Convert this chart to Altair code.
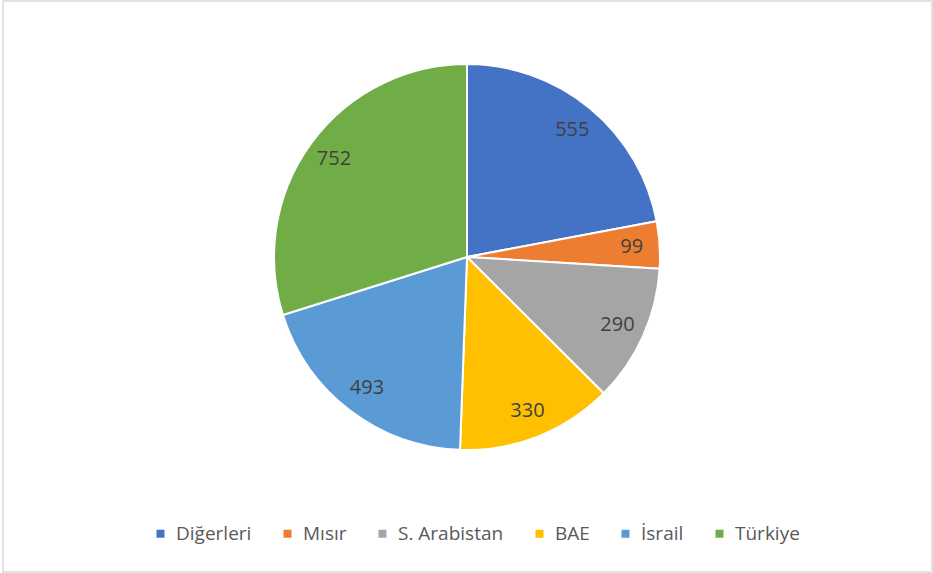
import altair as alt
import pandas as pd

categories = ["Diğerleri", "Mısır", "S. Arabistan", "BAE", "İsrail", "Türkiye"]
values = [555, 99, 290, 330, 493, 752]
colors = ["#4472C4", "#ED7D31", "#A5A5A5", "#FFC000", "#5B9BD5", "#70AD47"]

df = pd.DataFrame({"cat": categories, "val": values, "idx": list(range(len(values)))})

FONT = "Open Sans"
CX, CY = 464, 256

base = alt.Chart(df).encode(
    theta=alt.Theta("val:Q", stack=True),
    order=alt.Order("idx:Q", sort="ascending"),
    x=alt.value(CX),
    y=alt.value(CY),
)

arcs = base.mark_arc(outerRadius=193, stroke="white", strokeWidth=2).encode(
    color=alt.Color(
        "cat:N",
        scale=alt.Scale(domain=categories, range=colors),
        sort=categories,
        legend=alt.Legend(
            title=None,
            orient="none",
            legendX=148,
            legendY=523,
            direction="horizontal",
            symbolType="square",
            symbolSize=64,
            symbolStrokeWidth=0,
            labelFont=FONT,
            labelFontSize=19,
            labelColor="#595959",
            labelOffset=6,
            columnPadding=26,
            labelLimit=300,
        ),
    )
)

labels = base.mark_text(radius=165, font=FONT, fontSize=20, color="#404040").encode(
    text=alt.Text("val:Q")
)

chart = (
    alt.layer(arcs, labels)
    .properties(
        width=929,
        height=571,
        autosize=alt.AutoSizeParams(type="none"),
        padding={"left": 3, "top": 1, "right": 1, "bottom": 1},
        background="white",
    )
    .configure_view(stroke="#d9d9d9", strokeWidth=1.5)
)

chart.save("out.html", embed_options={"renderer": "svg", "actions": False})
